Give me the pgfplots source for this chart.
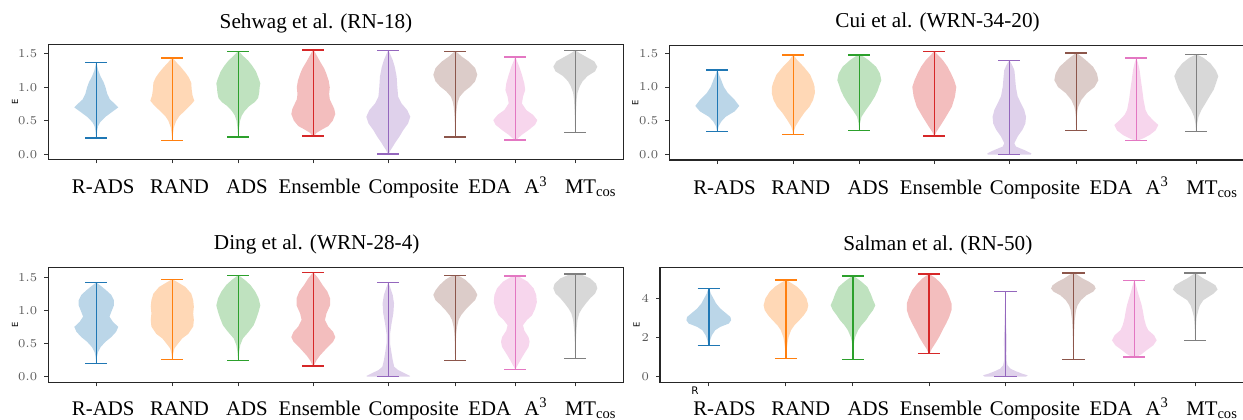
\documentclass[border=0pt]{standalone}
\usepackage{fontspec}
\setmainfont{Liberation Serif}
\newfontfamily\dejavu{DejaVu Sans}
\usepackage{pgfplots}
\pgfplotsset{compat=1.18}
\usepgfplotslibrary{fillbetween}

\definecolor{tabblue}{HTML}{1F77B4}
\definecolor{taborange}{HTML}{FF7F0E}
\definecolor{tabgreen}{HTML}{2CA02C}
\definecolor{tabred}{HTML}{D62728}
\definecolor{tabpurple}{HTML}{9467BD}
\definecolor{tabbrown}{HTML}{8C564B}
\definecolor{tabpink}{HTML}{E377C2}
\definecolor{tabgray}{HTML}{7F7F7F}

% One violin: #1 position, #2 colour, #3 minimum, #4 maximum,
% #5 density profile as rows "y relative-half-width\\"
\newcommand{\violin}[5]{%
  \addplot[draw=none, name path=R#1] table[row sep=\\, x expr={#1+22*\thisrow{w}}, y=y] {y w\\ #5};
  \addplot[draw=none, name path=L#1] table[row sep=\\, x expr={#1-22*\thisrow{w}}, y=y] {y w\\ #5};
  \addplot[fill=#2, fill opacity=0.3, draw=none] fill between[of=R#1 and L#1, reverse=true];
  \addplot[#2, line width=0.75pt] coordinates {(#1,#3) (#1,#4)};
  \addplot[#2, line width=0.75pt] table[row sep=\\, x expr={#1+\thisrow{d}}, y=y] {d y\\ -11 #3\\ 11 #3\\};
  \addplot[#2, line width=0.75pt] table[row sep=\\, x expr={#1+\thisrow{d}}, y=y] {d y\\ -11 #4\\ 11 #4\\};
}

\pgfplotsset{
  violinaxis/.style={
    anchor=south west, scale only axis, width=287.5pt,
    xmin=0, xmax=575,
    xtick={48,124,190,265,340,407,467,527}, xticklabels={},
    tick align=outside, xtick pos=bottom, ytick pos=left,
    major tick length=2pt,
    tick style={black!80, line width=0.5pt},
    axis line style={black!85, line width=0.55pt},
    yticklabel style={font=\fontsize{6.2}{7}\selectfont, text=black!65,
      /pgf/number format/.cd, fixed, fixed zerofill, precision=1},
  }
}

\newcommand{\titlefont}{\fontsize{10.6}{12}\selectfont}
\newcommand{\catfont}{\fontsize{10.4}{12}\selectfont}
\newcommand{\Efont}{\dejavu\fontsize{4.2}{5}\selectfont}

% Category names, set below each column of panels
\newcommand{\catlabels}[2]{% #1 x offset, #2 baseline
  \foreach \cx/\name in {51.6/R-ADS, 89.75/RAND, 123.5/ADS, 159.85/Ensemble,
      206.85/Composite, 244.85/EDA, 268/A\textsuperscript{3}, 295.4/MT\textsubscript{cos}}
    \node[font=\catfont, anchor=base, inner sep=0pt] at ({\cx pt+#1}, #2) {\name};
}

\begin{document}
\begin{tikzpicture}

% ---------------- Sehwag et al. (RN-18)
\begin{axis}[violinaxis, at={(24.15pt,129.85pt)}, height=57.5pt,
  ymin=-0.077, ymax=1.645, ytick={0,0.5,1,1.5}]
\violin{48}{tabblue}{0.24}{1.375}{0.24 0.01\\ 0.35 0.04\\ 0.42 0.08\\ 0.48 0.18\\ 0.56 0.42\\ 0.64 0.75\\ 0.7 1.0\\ 0.76 0.82\\ 0.82 0.62\\ 0.9 0.5\\ 1.0 0.42\\ 1.08 0.33\\ 1.16 0.2\\ 1.25 0.09\\ 1.32 0.04\\ 1.375 0.01\\}
\violin{124}{taborange}{0.205}{1.44}{0.205 0.01\\ 0.3 0.03\\ 0.4 0.07\\ 0.5 0.18\\ 0.57 0.32\\ 0.66 0.6\\ 0.74 0.85\\ 0.8 1.0\\ 0.88 0.92\\ 0.97 0.88\\ 1.07 0.86\\ 1.15 0.75\\ 1.22 0.6\\ 1.3 0.4\\ 1.37 0.2\\ 1.44 0.02\\}
\violin{190}{tabgreen}{0.26}{1.54}{0.26 0.01\\ 0.4 0.04\\ 0.5 0.08\\ 0.58 0.16\\ 0.65 0.3\\ 0.72 0.5\\ 0.78 0.75\\ 0.84 0.9\\ 0.92 0.95\\ 1.0 0.97\\ 1.06 1.0\\ 1.14 0.92\\ 1.24 0.8\\ 1.33 0.62\\ 1.4 0.45\\ 1.47 0.22\\ 1.54 0.02\\}
\violin{265}{tabred}{0.27}{1.56}{0.27 0.03\\ 0.32 0.15\\ 0.37 0.4\\ 0.42 0.68\\ 0.5 0.88\\ 0.6 1.0\\ 0.68 0.95\\ 0.75 0.85\\ 0.82 0.75\\ 0.9 0.72\\ 1.0 0.75\\ 1.1 0.7\\ 1.2 0.6\\ 1.28 0.5\\ 1.38 0.32\\ 1.48 0.15\\ 1.56 0.02\\}
\violin{340}{tabpurple}{0.0}{1.555}{0.0 0.02\\ 0.06 0.1\\ 0.12 0.22\\ 0.17 0.31\\ 0.26 0.5\\ 0.36 0.68\\ 0.46 0.9\\ 0.56 1.0\\ 0.66 0.86\\ 0.76 0.6\\ 0.86 0.45\\ 1.0 0.41\\ 1.16 0.38\\ 1.3 0.3\\ 1.41 0.2\\ 1.5 0.08\\ 1.555 0.01\\}
\violin{407}{tabbrown}{0.26}{1.54}{0.26 0.01\\ 0.45 0.02\\ 0.6 0.04\\ 0.7 0.07\\ 0.78 0.11\\ 0.86 0.2\\ 0.94 0.41\\ 1.01 0.68\\ 1.09 0.9\\ 1.19 1.0\\ 1.29 0.9\\ 1.39 0.6\\ 1.46 0.3\\ 1.54 0.02\\}
\violin{467}{tabpink}{0.21}{1.455}{0.21 0.03\\ 0.29 0.3\\ 0.36 0.6\\ 0.44 0.9\\ 0.51 1.0\\ 0.59 0.8\\ 0.66 0.5\\ 0.76 0.3\\ 0.86 0.35\\ 0.96 0.45\\ 1.06 0.41\\ 1.19 0.3\\ 1.31 0.18\\ 1.39 0.08\\ 1.455 0.01\\}
\violin{527}{tabgray}{0.325}{1.555}{0.325 0.01\\ 0.55 0.02\\ 0.7 0.04\\ 0.82 0.06\\ 0.92 0.1\\ 1.02 0.21\\ 1.09 0.33\\ 1.17 0.56\\ 1.24 0.9\\ 1.31 1.0\\ 1.39 0.86\\ 1.46 0.48\\ 1.515 0.18\\ 1.555 0.02\\}
\end{axis}

% ---------------- Cui et al. (WRN-34-20)
\begin{axis}[violinaxis, at={(334.65pt,129.5pt)}, height=57.15pt,
  ymin=-0.078, ymax=1.61, ytick={0,0.5,1,1.5}]
\violin{48}{tabblue}{0.345}{1.253}{0.345 0.01\\ 0.42 0.06\\ 0.49 0.18\\ 0.56 0.38\\ 0.64 0.79\\ 0.72 1.0\\ 0.81 0.79\\ 0.91 0.48\\ 1.0 0.3\\ 1.1 0.18\\ 1.18 0.08\\ 1.253 0.01\\}
\violin{124}{taborange}{0.296}{1.47}{0.296 0.01\\ 0.36 0.04\\ 0.42 0.1\\ 0.52 0.29\\ 0.62 0.5\\ 0.71 0.74\\ 0.81 0.9\\ 0.91 0.98\\ 1.0 0.97\\ 1.06 0.92\\ 1.18 0.77\\ 1.3 0.47\\ 1.4 0.17\\ 1.47 0.02\\}
\violin{190}{tabgreen}{0.355}{1.475}{0.355 0.01\\ 0.46 0.03\\ 0.56 0.1\\ 0.66 0.3\\ 0.76 0.52\\ 0.86 0.71\\ 0.95 0.84\\ 1.01 0.9\\ 1.1 1.0\\ 1.2 0.94\\ 1.3 0.76\\ 1.4 0.41\\ 1.45 0.18\\ 1.475 0.02\\}
\violin{265}{tabred}{0.28}{1.525}{0.28 0.01\\ 0.34 0.1\\ 0.44 0.3\\ 0.56 0.53\\ 0.71 0.8\\ 0.86 0.94\\ 1.0 1.0\\ 1.1 0.9\\ 1.2 0.76\\ 1.3 0.6\\ 1.4 0.38\\ 1.475 0.15\\ 1.525 0.02\\}
\violin{340}{tabpurple}{0.0}{1.39}{0.0 0.98\\ 0.02 1.0\\ 0.07 0.68\\ 0.12 0.3\\ 0.17 0.23\\ 0.27 0.38\\ 0.37 0.6\\ 0.46 0.73\\ 0.56 0.76\\ 0.66 0.68\\ 0.76 0.53\\ 0.86 0.38\\ 1.0 0.3\\ 1.15 0.26\\ 1.25 0.23\\ 1.33 0.12\\ 1.39 0.01\\}
\violin{407}{tabbrown}{0.355}{1.5}{0.355 0.01\\ 0.55 0.02\\ 0.65 0.05\\ 0.71 0.09\\ 0.81 0.23\\ 0.91 0.48\\ 1.0 0.83\\ 1.1 1.0\\ 1.2 0.94\\ 1.3 0.76\\ 1.4 0.42\\ 1.45 0.23\\ 1.5 0.02\\}
\violin{467}{tabpink}{0.207}{1.425}{0.207 0.05\\ 0.24 0.3\\ 0.29 0.6\\ 0.36 0.88\\ 0.44 1.0\\ 0.51 0.76\\ 0.59 0.53\\ 0.66 0.42\\ 0.81 0.33\\ 0.96 0.27\\ 1.1 0.21\\ 1.25 0.15\\ 1.35 0.08\\ 1.425 0.01\\}
\violin{527}{tabgray}{0.345}{1.48}{0.345 0.01\\ 0.46 0.04\\ 0.56 0.1\\ 0.66 0.23\\ 0.76 0.42\\ 0.86 0.6\\ 0.96 0.79\\ 1.06 0.9\\ 1.16 1.0\\ 1.25 0.88\\ 1.35 0.64\\ 1.43 0.33\\ 1.48 0.02\\}
\end{axis}

% ---------------- Ding et al. (WRN-28-4)
\begin{axis}[violinaxis, at={(24.15pt,18.35pt)}, height=57.3pt,
  ymin=-0.085, ymax=1.652, ytick={0,0.5,1,1.5}]
\violin{48}{tabblue}{0.198}{1.424}{0.198 0.01\\ 0.3 0.03\\ 0.375 0.08\\ 0.45 0.2\\ 0.53 0.42\\ 0.6 0.68\\ 0.68 0.9\\ 0.755 1.0\\ 0.83 0.76\\ 0.91 0.6\\ 0.98 0.68\\ 1.08 0.8\\ 1.16 0.8\\ 1.24 0.68\\ 1.31 0.45\\ 1.37 0.23\\ 1.424 0.02\\}
\violin{124}{taborange}{0.258}{1.475}{0.258 0.01\\ 0.35 0.04\\ 0.43 0.1\\ 0.5 0.26\\ 0.58 0.45\\ 0.65 0.73\\ 0.76 0.95\\ 0.86 0.98\\ 0.96 0.95\\ 1.06 0.98\\ 1.16 0.95\\ 1.26 0.86\\ 1.36 0.6\\ 1.42 0.3\\ 1.475 0.02\\}
\violin{190}{tabgreen}{0.248}{1.536}{0.248 0.01\\ 0.38 0.04\\ 0.48 0.09\\ 0.58 0.21\\ 0.68 0.47\\ 0.78 0.7\\ 0.88 0.82\\ 0.98 0.92\\ 1.08 1.0\\ 1.19 0.92\\ 1.29 0.77\\ 1.39 0.55\\ 1.46 0.32\\ 1.536 0.02\\}
\violin{265}{tabred}{0.162}{1.576}{0.162 0.02\\ 0.25 0.15\\ 0.32 0.3\\ 0.43 0.6\\ 0.53 0.9\\ 0.6 1.0\\ 0.68 0.9\\ 0.76 0.68\\ 0.86 0.53\\ 0.96 0.6\\ 1.08 0.76\\ 1.19 0.76\\ 1.29 0.64\\ 1.39 0.42\\ 1.49 0.23\\ 1.576 0.02\\}
\violin{340}{tabpurple}{0.0}{1.424}{0.0 0.95\\ 0.01 1.0\\ 0.05 0.76\\ 0.1 0.45\\ 0.15 0.27\\ 0.25 0.2\\ 0.35 0.15\\ 0.5 0.08\\ 0.65 0.08\\ 0.81 0.15\\ 0.96 0.23\\ 1.11 0.26\\ 1.24 0.2\\ 1.34 0.1\\ 1.424 0.01\\}
\violin{407}{tabbrown}{0.248}{1.536}{0.248 0.01\\ 0.5 0.02\\ 0.65 0.04\\ 0.76 0.08\\ 0.86 0.15\\ 0.93 0.26\\ 1.01 0.45\\ 1.09 0.68\\ 1.16 0.9\\ 1.24 1.0\\ 1.31 0.9\\ 1.39 0.71\\ 1.47 0.45\\ 1.516 0.23\\ 1.536 0.05\\}
\violin{467}{tabpink}{0.112}{1.53}{0.112 0.01\\ 0.17 0.1\\ 0.25 0.23\\ 0.35 0.41\\ 0.45 0.6\\ 0.53 0.65\\ 0.6 0.6\\ 0.7 0.41\\ 0.78 0.35\\ 0.86 0.53\\ 0.93 0.76\\ 1.03 0.9\\ 1.13 0.98\\ 1.24 0.95\\ 1.34 0.83\\ 1.44 0.56\\ 1.505 0.23\\ 1.53 0.05\\}
\violin{527}{tabgray}{0.274}{1.56}{0.274 0.01\\ 0.5 0.02\\ 0.7 0.05\\ 0.86 0.1\\ 0.96 0.18\\ 1.03 0.3\\ 1.11 0.48\\ 1.19 0.68\\ 1.26 0.9\\ 1.34 1.0\\ 1.41 0.94\\ 1.49 0.68\\ 1.54 0.33\\ 1.56 0.05\\}
\end{axis}

% ---------------- Salman et al. (RN-50)
\begin{axis}[violinaxis, at={(330pt,18.35pt)}, width=292pt, height=57.3pt,
  ymin=-0.29, ymax=5.6, ytick={0,2,4},
  yticklabel style={/pgf/number format/precision=0}]
\violin{48}{tabblue}{1.614}{4.53}{1.614 0.02\\ 1.87 0.06\\ 2.13 0.14\\ 2.39 0.29\\ 2.56 0.52\\ 2.73 0.9\\ 2.9 1.0\\ 3.07 0.97\\ 3.24 0.79\\ 3.5 0.52\\ 3.76 0.33\\ 4.02 0.21\\ 4.27 0.09\\ 4.53 0.02\\}
\violin{124}{taborange}{0.944}{4.96}{0.944 0.01\\ 1.3 0.02\\ 1.53 0.05\\ 1.8 0.08\\ 2.04 0.12\\ 2.39 0.23\\ 2.64 0.38\\ 2.9 0.6\\ 3.16 0.8\\ 3.42 0.95\\ 3.67 1.0\\ 4.02 0.92\\ 4.36 0.73\\ 4.62 0.5\\ 4.79 0.27\\ 4.96 0.02\\}
\violin{190}{tabgreen}{0.876}{5.18}{0.876 0.01\\ 1.4 0.02\\ 1.8 0.05\\ 2.04 0.1\\ 2.39 0.23\\ 2.64 0.38\\ 2.9 0.58\\ 3.16 0.73\\ 3.42 0.9\\ 3.67 1.0\\ 3.93 0.9\\ 4.27 0.79\\ 4.62 0.64\\ 4.88 0.38\\ 5.05 0.18\\ 5.18 0.02\\}
\violin{265}{tabred}{1.185}{5.27}{1.185 0.02\\ 1.44 0.12\\ 1.7 0.27\\ 2.04 0.45\\ 2.39 0.6\\ 2.73 0.76\\ 3.07 0.9\\ 3.42 1.0\\ 3.76 1.0\\ 4.1 0.9\\ 4.45 0.76\\ 4.79 0.53\\ 5.05 0.3\\ 5.27 0.02\\}
\violin{340}{tabpurple}{0.0}{4.38}{0.0 0.92\\ 0.07 1.0\\ 0.15 0.76\\ 0.29 0.45\\ 0.41 0.23\\ 0.58 0.1\\ 0.8 0.06\\ 1.2 0.05\\ 1.6 0.06\\ 2.0 0.06\\ 2.5 0.04\\ 3.0 0.03\\ 3.5 0.02\\ 4.0 0.01\\ 4.38 0.01\\}
\violin{407}{tabbrown}{0.876}{5.34}{0.876 0.01\\ 1.8 0.02\\ 2.5 0.04\\ 2.9 0.06\\ 3.42 0.12\\ 3.67 0.19\\ 3.93 0.34\\ 4.19 0.59\\ 4.36 0.88\\ 4.53 1.0\\ 4.7 0.93\\ 4.88 0.7\\ 5.05 0.41\\ 5.22 0.19\\ 5.34 0.02\\}
\violin{467}{tabpink}{1.013}{4.94}{1.013 0.1\\ 1.15 0.32\\ 1.36 0.55\\ 1.61 0.85\\ 1.87 1.0\\ 2.13 0.88\\ 2.39 0.62\\ 2.64 0.52\\ 2.99 0.44\\ 3.33 0.39\\ 3.67 0.33\\ 4.02 0.24\\ 4.36 0.15\\ 4.62 0.09\\ 4.94 0.01\\}
\violin{527}{tabgray}{1.87}{5.32}{1.87 0.01\\ 2.4 0.02\\ 2.8 0.04\\ 3.07 0.06\\ 3.42 0.14\\ 3.67 0.21\\ 3.93 0.36\\ 4.1 0.59\\ 4.27 0.82\\ 4.48 1.0\\ 4.7 0.9\\ 4.88 0.64\\ 5.05 0.36\\ 5.22 0.14\\ 5.32 0.02\\}
\end{axis}

% panel titles
\node[font=\titlefont, anchor=base] at (158pt,195.5pt) {Sehwag et al. (RN-18)};
\node[font=\titlefont, anchor=base] at (468.75pt,195.8pt) {Cui et al. (WRN-34-20)};
\node[font=\titlefont, anchor=base] at (158.35pt,84.85pt) {Ding et al. (WRN-28-4)};
\node[font=\titlefont, anchor=base] at (468.9pt,84.5pt) {Salman et al. (RN-50)};

% y axis labels
\node[font=\Efont, rotate=90] at (7.5pt,158.6pt) {E};
\node[font=\Efont, rotate=90] at (317.7pt,158.1pt) {E};
\node[font=\Efont, rotate=90] at (7.5pt,47pt) {E};
\node[font=\Efont, rotate=90] at (318.3pt,47pt) {E};
\node[font=\dejavu\fontsize{5.2}{6}\selectfont] at (347.5pt,14pt) {R};

% category names
\catlabels{0pt}{112.8pt}
\catlabels{310.65pt}{112.5pt}
\catlabels{0pt}{2pt}
\catlabels{310.65pt}{2pt}

% page frame
\pgfresetboundingbox
\path[use as bounding box] (0,0) rectangle (621.5pt,209.5pt);
\end{tikzpicture}
\end{document}
